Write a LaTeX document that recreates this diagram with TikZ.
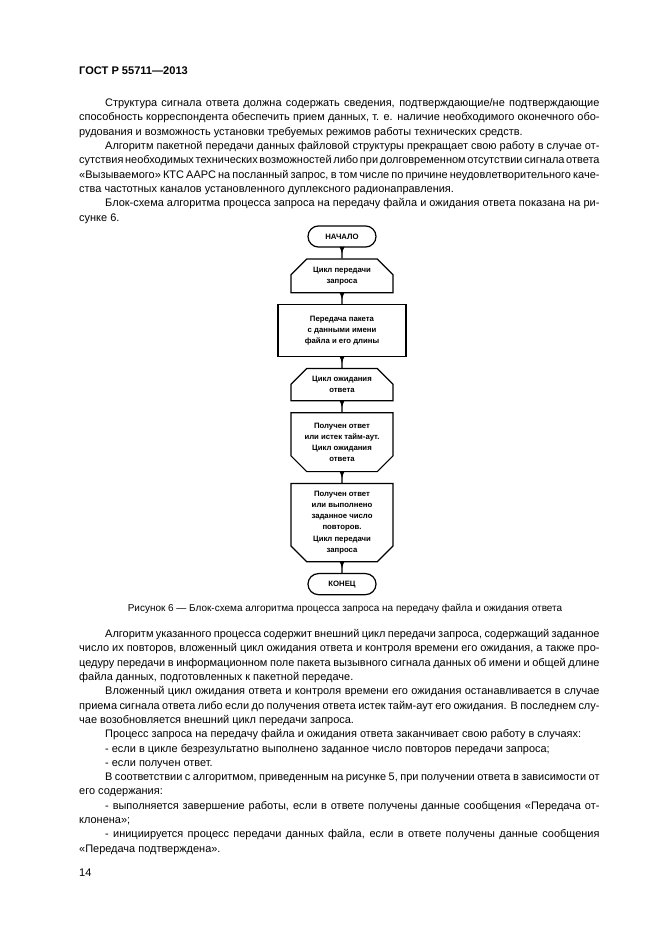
\documentclass[tikz,border=0pt]{standalone}
\usepackage{fontspec}
\setmainfont{Liberation Sans}
\usepackage{tikz}
\usetikzlibrary{shapes.misc,arrows,positioning,calc,decorations.markings}
\hyphenpenalty=10000
\exhyphenpenalty=10000

\begin{document}
\begin{tikzpicture}[x=0.3175mm, y=-0.3175mm,
    body/.style={anchor=base west, inner sep=0pt, text width=165.2mm, align=justify, font=\fontsize{9.9}{12.93}\selectfont,
        execute at begin node={\setlength{\parindent}{8.25mm}\spaceskip=.278em plus .3em minus .2em\relax\indent}},
    term/.style={rounded rectangle, draw, line width=1.1pt, minimum width=21.6mm, minimum height=6.7mm, inner sep=0pt, font=\fontsize{7}{10}\selectfont\bfseries},
    block/.style={rectangle, draw, line width=1.1pt, minimum width=40.6mm, minimum height=16.5mm, inner sep=0pt, align=center, font=\fontsize{7}{10}\selectfont\bfseries},
    loopbeg/.style={chamfered rectangle, chamfered rectangle corners={north west, north east}, chamfered rectangle xsep=2.5mm, chamfered rectangle ysep=2.5mm, draw, line width=1.1pt, minimum width=32.4mm, inner sep=0pt, align=center, font=\fontsize{7}{10}\selectfont\bfseries},
    loopend/.style={loopbeg, chamfered rectangle corners={south west, south east}},
    flow/.style={line width=1.1pt, postaction={decorate}, decoration={markings, mark=at position 0.55 with {\arrow{latex}}}},
    node distance=3.4mm,
]
\useasboundingbox[fill=white] (0,0) rectangle (661,936);

% Page header
\node[anchor=base west, inner sep=0pt, font=\fontsize{10}{12}\selectfont\bfseries] (gost) at (79,74) {ГОСТ Р 55711—2013};

% Text before the figure
\node[body] (intro) at (79,106.5) {Структура сигнала ответа должна содержать сведения, подтверждающие/не подтверждающие\linebreak
способность корреспондента обеспечить прием данных, т. е. наличие необходимого оконечного обо-\linebreak
рудования и возможность установки требуемых режимов работы технических средств.\par
Алгоритм пакетной передачи данных файловой структуры прекращает свою работу в случае от-\linebreak
сутствия необходимых технических возможностей либо при долговременном отсутствии сигнала ответа\linebreak
«Вызываемого» КТС ААРС на посланный запрос, в том числе по причине неудовлетворительного каче-\linebreak
ства частотных каналов установленного дуплексного радионаправления.\par
Блок-схема алгоритма процесса запроса на передачу файла и ожидания ответа показана на ри-\linebreak
сунке 6.};

% Flowchart
\node[term] (start) at (342,236.5) {НАЧАЛО};
\node[loopbeg, minimum height=10.2mm, below=of start] (cyclereq) {Цикл передачи\\запроса};
\node[block, below=of cyclereq] (sendpkt) {Передача пакета\\с данными имени\\файла и его длины};
\node[loopbeg, minimum height=10.2mm, below=of sendpkt] (cycleans) {Цикл ожидания\\ответа};
\node[loopend, minimum height=18.7mm, below=of cycleans] (endans) {Получен ответ\\или истек тайм-аут.\\Цикл ожидания\\ответа};
\node[loopend, minimum height=24.8mm, below=of endans] (endreq) {Получен ответ\\или выполнено\\заданное число\\повторов.\\Цикл передачи\\запроса};
\node[term, below=of endreq] (stop) {КОНЕЦ};

% Connectors
\foreach \from/\to in {start/cyclereq, cyclereq/sendpkt, sendpkt/cycleans, cycleans/endans, endans/endreq, endreq/stop} {
    \draw[flow] (\from) -- (\to);
}

% Caption
\node[anchor=base, inner sep=0pt, font=\fontsize{9}{11}\selectfont] (caption) at (345,611.5) {Рисунок 6 — Блок-схема алгоритма процесса запроса на передачу файла и ожидания ответа};

% Text after the figure
\node[body] (outro) at (79,637.5) {Алгоритм указанного процесса содержит внешний цикл передачи запроса, содержащий заданное\linebreak
число их повторов, вложенный цикл ожидания ответа и контроля времени его ожидания, а также про-\linebreak
цедуру передачи в информационном поле пакета вызывного сигнала данных об имени и общей длине\linebreak
файла данных, подготовленных к пакетной передаче.\par
Вложенный цикл ожидания ответа и контроля времени его ожидания останавливается в случае\linebreak
приема сигнала ответа либо если до получения ответа истек тайм-аут его ожидания. В последнем слу-\linebreak
чае возобновляется внешний цикл передачи запроса.\par
Процесс запроса на передачу файла и ожидания ответа заканчивает свою работу в случаях:\par
- если в цикле безрезультатно выполнено заданное число повторов передачи запроса;\par
- если получен ответ.\par
В соответствии с алгоритмом, приведенным на рисунке 5, при получении ответа в зависимости от\linebreak
его содержания:\par
- выполняется завершение работы, если в ответе получены данные сообщения «Передача от-\linebreak
клонена»;\par
- инициируется процесс передачи данных файла, если в ответе получены данные сообщения\linebreak
«Передача подтверждена».};

% Page number
\node[anchor=base west, inner sep=0pt, font=\fontsize{10}{12}\selectfont] (pagenum) at (79,876.5) {14};

\end{tikzpicture}
\end{document}
